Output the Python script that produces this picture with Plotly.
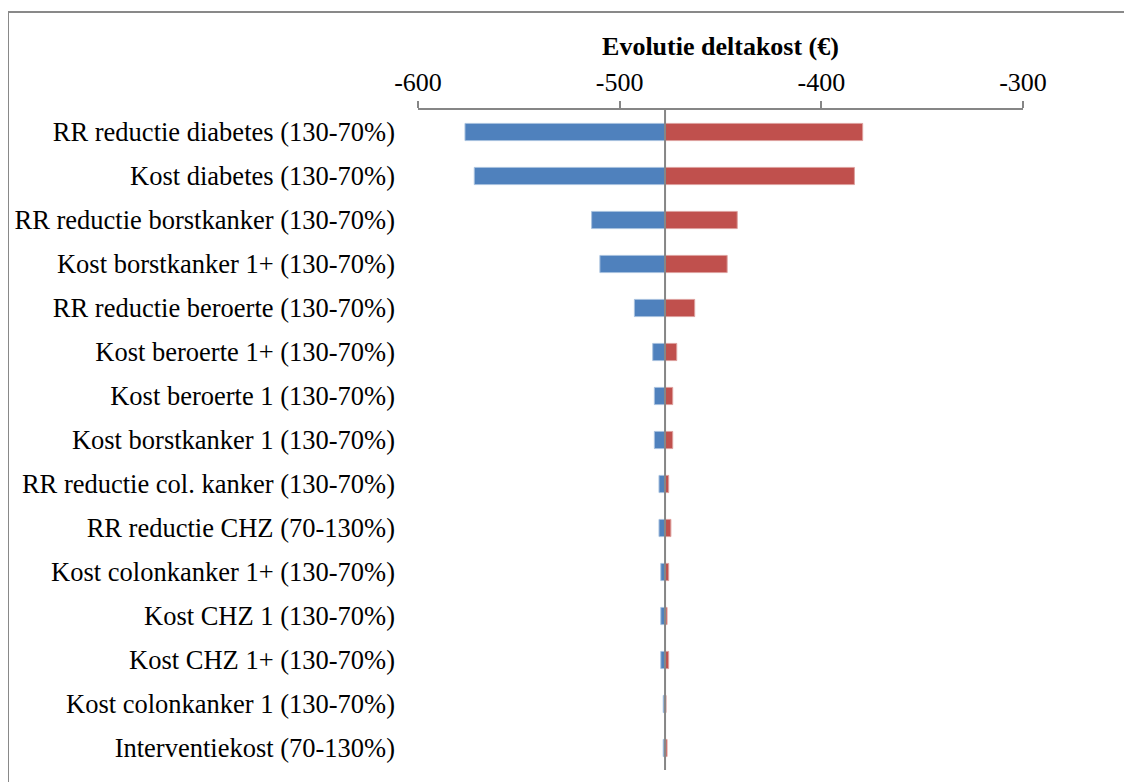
import plotly.graph_objects as go

labels = [
    "RR reductie diabetes (130-70%)",
    "Kost diabetes (130-70%)",
    "RR reductie borstkanker (130-70%)",
    "Kost borstkanker 1+ (130-70%)",
    "RR reductie beroerte (130-70%)",
    "Kost beroerte 1+ (130-70%)",
    "Kost beroerte 1 (130-70%)",
    "Kost borstkanker 1 (130-70%)",
    "RR reductie col. kanker (130-70%)",
    "RR reductie CHZ (70-130%)",
    "Kost colonkanker 1+ (130-70%)",
    "Kost CHZ 1 (130-70%)",
    "Kost CHZ 1+ (130-70%)",
    "Kost colonkanker 1 (130-70%)",
    "Interventiekost (70-130%)",
]
base_value = -477.5
low_values = [-576.7, -572.1, -513.9, -509.8, -492.7, -483.6, -482.8, -482.8,
              -480.5, -480.5, -479.6, -479.6, -479.6, -478.4, -478.4]
high_values = [-379.5, -383.6, -441.7, -446.7, -462.8, -471.7, -473.7, -473.7,
               -475.7, -474.6, -475.7, -476.5, -475.7, -477.0, -476.5]
x_ticks = [-600, -500, -400, -300]
title_text = "Evolutie deltakost (€)"

BLUE = "#4F81BD"
RED = "#C0504D"
GREY = "#868686"
FONT = "Liberation Serif, Times New Roman, serif"

fig = go.Figure()
fig.add_trace(go.Bar(
    y=labels, x=[v - base_value for v in low_values], base=base_value,
    orientation="h", marker=dict(color=BLUE, line=dict(color="#A7C0DE", width=1)),
    showlegend=False, hoverinfo="skip",
))
fig.add_trace(go.Bar(
    y=labels, x=[v - base_value for v in high_values], base=base_value,
    orientation="h", marker=dict(color=RED, line=dict(color="#DDA09E", width=1)),
    showlegend=False, hoverinfo="skip",
))

# vertical axis line at base value
fig.add_shape(type="line", xref="x", yref="paper", x0=base_value, x1=base_value,
              y0=0, y1=1, line=dict(color=GREY, width=2), layer="above")
# chart border (cropped frame)
fig.add_shape(type="rect", xref="paper", yref="paper",
              x0=-0.6777, x1=1.2, y0=-0.08, y1=1.1485,
              line=dict(color="#898989", width=2), fillcolor="rgba(0,0,0,0)")

fig.update_layout(
    width=1132, height=782,
    margin=dict(l=410, r=117, t=102, b=20, autoexpand=False),
    paper_bgcolor="white", plot_bgcolor="white",
    barmode="overlay", bargap=0.61,
    font=dict(family=FONT, size=26, color="black"),
    xaxis=dict(
        side="top", range=[-600, -300], tickvals=x_ticks,
        ticktext=[str(v) for v in x_ticks], automargin=False,
        showgrid=False, zeroline=False, showline=True, linecolor=GREY, linewidth=2,
        ticks="outside", ticklen=7, tickcolor=GREY, tickwidth=2,
        tickfont=dict(family=FONT, size=26, color="black"),
        title=dict(text="<b>" + title_text + "</b>", font=dict(family=FONT, size=26),
                   standoff=4),
    ),
    yaxis=dict(
        autorange="reversed", showgrid=False, zeroline=False, showline=False,
        automargin=False,
        ticks="", tickfont=dict(family=FONT, size=26.5, color="black"),
        ticklabelstandoff=22,
    ),
)

fig.write_html("out.html")
